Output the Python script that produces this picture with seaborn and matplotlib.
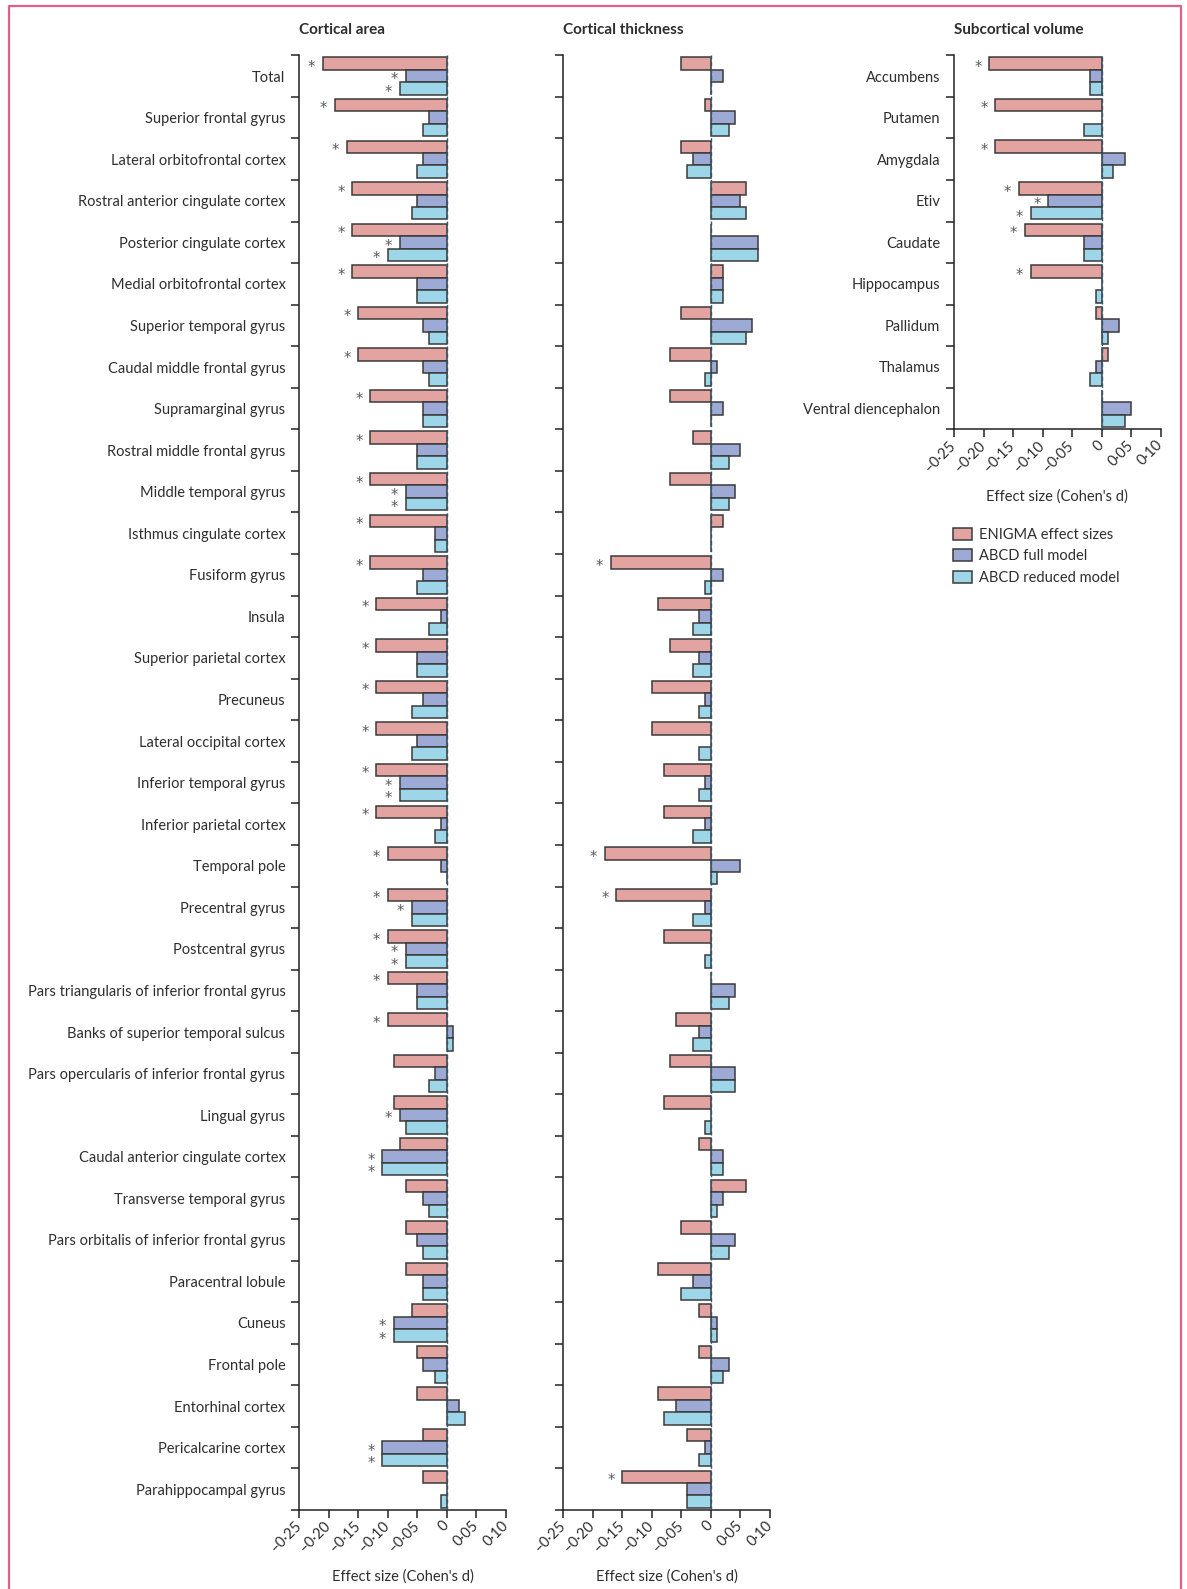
import numpy as np
import pandas as pd
import matplotlib
matplotlib.use("Agg")
import matplotlib.pyplot as plt
import seaborn as sns
from matplotlib.patches import Patch
from matplotlib.lines import Line2D

# ---------------- data ----------------
models = ["ENIGMA effect sizes", "ABCD full model", "ABCD reduced model"]
colors = ["#e3a4a1", "#9eaad6", "#9dd6e8"]

cortical_regions = [
    "Total", "Superior frontal gyrus", "Lateral orbitofrontal cortex",
    "Rostral anterior cingulate cortex", "Posterior cingulate cortex",
    "Medial orbitofrontal cortex", "Superior temporal gyrus",
    "Caudal middle frontal gyrus", "Supramarginal gyrus",
    "Rostral middle frontal gyrus", "Middle temporal gyrus",
    "Isthmus cingulate cortex", "Fusiform gyrus", "Insula",
    "Superior parietal cortex", "Precuneus", "Lateral occipital cortex",
    "Inferior temporal gyrus", "Inferior parietal cortex", "Temporal pole",
    "Precentral gyrus", "Postcentral gyrus",
    "Pars triangularis of inferior frontal gyrus",
    "Banks of superior temporal sulcus",
    "Pars opercularis of inferior frontal gyrus", "Lingual gyrus",
    "Caudal anterior cingulate cortex", "Transverse temporal gyrus",
    "Pars orbitalis of inferior frontal gyrus", "Paracentral lobule",
    "Cuneus", "Frontal pole", "Entorhinal cortex", "Pericalcarine cortex",
    "Parahippocampal gyrus",
]

area_enigma = [-0.21, -0.19, -0.17, -0.16, -0.16, -0.16, -0.15, -0.15, -0.13,
               -0.13, -0.13, -0.13, -0.13, -0.12, -0.12, -0.12, -0.12, -0.12,
               -0.12, -0.10, -0.10, -0.10, -0.10, -0.10, -0.09, -0.09, -0.08,
               -0.07, -0.07, -0.07, -0.06, -0.05, -0.05, -0.04, -0.04]
area_full = [-0.07, -0.03, -0.04, -0.05, -0.08, -0.05, -0.04, -0.04, -0.04,
             -0.05, -0.07, -0.02, -0.04, -0.01, -0.05, -0.04, -0.05, -0.08,
             -0.01, -0.01, -0.06, -0.07, -0.05, 0.01, -0.02, -0.08, -0.11,
             -0.04, -0.05, -0.04, -0.09, -0.04, 0.02, -0.11, 0.0]
area_reduced = [-0.08, -0.04, -0.05, -0.06, -0.10, -0.05, -0.03, -0.03, -0.04,
                -0.05, -0.07, -0.02, -0.05, -0.03, -0.05, -0.06, -0.06, -0.08,
                -0.02, 0.0, -0.06, -0.07, -0.05, 0.01, -0.03, -0.07, -0.11,
                -0.03, -0.04, -0.04, -0.09, -0.02, 0.03, -0.11, -0.01]

thick_enigma = [-0.05, -0.01, -0.05, 0.06, 0.0, 0.02, -0.05, -0.07, -0.07,
                -0.03, -0.07, 0.02, -0.17, -0.09, -0.07, -0.10, -0.10, -0.08,
                -0.08, -0.18, -0.16, -0.08, 0.0, -0.06, -0.07, -0.08, -0.02,
                0.06, -0.05, -0.09, -0.02, -0.02, -0.09, -0.04, -0.15]
thick_full = [0.02, 0.04, -0.03, 0.05, 0.08, 0.02, 0.07, 0.01, 0.02, 0.05,
              0.04, 0.0, 0.02, -0.02, -0.02, -0.01, 0.0, -0.01, -0.01, 0.05,
              -0.01, 0.0, 0.04, -0.02, 0.04, 0.0, 0.02, 0.02, 0.04, -0.03,
              0.01, 0.03, -0.06, -0.01, -0.04]
thick_reduced = [0.0, 0.03, -0.04, 0.06, 0.08, 0.02, 0.06, -0.01, 0.0, 0.03,
                 0.03, 0.0, -0.01, -0.03, -0.03, -0.02, -0.02, -0.02, -0.03,
                 0.01, -0.03, -0.01, 0.03, -0.03, 0.04, -0.01, 0.02, 0.01,
                 0.03, -0.05, 0.01, 0.02, -0.08, -0.02, -0.04]

sub_regions = ["Accumbens", "Putamen", "Amygdala", "Etiv", "Caudate",
               "Hippocampus", "Pallidum", "Thalamus", "Ventral diencephalon"]
sub_enigma = [-0.19, -0.18, -0.18, -0.14, -0.13, -0.12, -0.01, 0.01, 0.0]
sub_full = [-0.02, 0.0, 0.04, -0.09, -0.03, 0.0, 0.03, -0.01, 0.05]
sub_reduced = [-0.02, -0.03, 0.02, -0.12, -0.03, -0.01, 0.01, -0.02, 0.04]

# significance markers (*)
area_sig_enigma = cortical_regions[:24]
area_sig_full = ["Total", "Posterior cingulate cortex", "Middle temporal gyrus",
                 "Inferior temporal gyrus", "Precentral gyrus",
                 "Postcentral gyrus", "Lingual gyrus",
                 "Caudal anterior cingulate cortex", "Cuneus",
                 "Pericalcarine cortex"]
area_sig_reduced = ["Total", "Posterior cingulate cortex",
                    "Middle temporal gyrus", "Inferior temporal gyrus",
                    "Postcentral gyrus", "Caudal anterior cingulate cortex",
                    "Cuneus", "Pericalcarine cortex"]
thick_sig_enigma = ["Fusiform gyrus", "Temporal pole", "Precentral gyrus",
                    "Parahippocampal gyrus"]
thick_sig_full = []
thick_sig_reduced = []
sub_sig_enigma = ["Accumbens", "Putamen", "Amygdala", "Etiv", "Caudate",
                  "Hippocampus"]
sub_sig_full = ["Etiv"]
sub_sig_reduced = ["Etiv"]

panel_titles = ["Cortical area", "Cortical thickness", "Subcortical volume"]
xticks = [-0.25, -0.20, -0.15, -0.10, -0.05, 0.0, 0.05, 0.10]
xticklabels = ["\u20130\u00b725", "\u20130\u00b720", "\u20130\u00b715",
               "\u20130\u00b710", "\u20130\u00b705", "0", "0\u00b705",
               "0\u00b710"]
xlabel = "Effect size (Cohen's d)"

# ---------------- style ----------------
sns.set_style("ticks")
plt.rcParams["font.family"] = ["Lato", "DejaVu Sans"]
TXT = "#2e2e2e"
EDGE = "#3a3a3a"
plt.rcParams["text.color"] = TXT
plt.rcParams["axes.labelcolor"] = TXT

W, H = 1187, 1589
fig = plt.figure(figsize=(W / 100, H / 100), dpi=100)


def fx(px):
    return px / W


def fy(px):
    return 1 - px / H


def make_axes(left_px, top_px, bottom_px, width_px=206.7):
    return fig.add_axes([fx(left_px), fy(bottom_px),
                         width_px / W, (bottom_px - top_px) / H])


def draw(ax, regions, vals, sigs, show_labels):
    n = len(regions)
    df = pd.DataFrame({
        "region": regions * 3,
        "model": [m for m in models for _ in regions],
        "d": vals[0] + vals[1] + vals[2],
    })
    sns.barplot(data=df, x="d", y="region", hue="model", hue_order=models,
                order=regions, palette=colors, saturation=1, width=0.9,
                edgecolor=EDGE, linewidth=1.1, errorbar=None, orient="h",
                legend=False, ax=ax, zorder=3)
    ax.set_xlim(-0.25, 0.10)
    ax.set_ylim(n - 0.5, -0.5)
    ax.axvline(0, color="#2f5873", lw=1.0, ls=(0, (3, 2)), zorder=6)
    # stars
    for j, cont in enumerate(ax.containers):
        for bar in cont:
            bb = bar.get_bbox()
            yc = (bb.y0 + bb.y1) / 2
            k = int(round(yc))
            if regions[k] in sigs[j]:
                ax.text(min(bb.x0, bb.x1) - 0.019, yc + 0.2, "*",
                        ha="center", va="baseline", fontsize=10.5,
                        family="DejaVu Sans", color="#5a5a5a", zorder=7)
    # axes styling
    sns.despine(ax=ax)
    for s in ("left", "bottom"):
        ax.spines[s].set_color("#222222")
        ax.spines[s].set_linewidth(1.1)
    ax.set_yticks(range(n))
    if show_labels:
        ax.set_yticklabels(regions, fontsize=10.5, color=TXT)
    else:
        ax.set_yticklabels([])
    ax.set_yticks(np.arange(-0.5, n, 1.0), minor=True)
    ax.tick_params(axis="y", which="major", length=0, pad=10)
    ax.tick_params(axis="y", which="minor", length=5.8, width=1.1,
                   color="#222222")
    ax.set_ylabel("")
    ax.set_xticks(xticks)
    ax.set_xticklabels(xticklabels, rotation=45, ha="right", va="center",
                       rotation_mode="anchor", fontsize=10.5, color=TXT)
    ax.tick_params(axis="x", which="major", length=5.8, width=1.1,
                   color="#222222", pad=4)
    ax.set_xlabel(xlabel, fontsize=10.5)
    h_px = ax.get_position().height * H
    ax.xaxis.set_label_coords(0.5, -67 / h_px)
    ax.xaxis.label.set_va("center")
    ax.grid(False)


ax1 = make_axes(299.3, 55.3, 1510)
ax2 = make_axes(563.3, 55.3, 1510)
ax3 = make_axes(954.0, 55.3, 429.3)

draw(ax1, cortical_regions, [area_enigma, area_full, area_reduced],
     [area_sig_enigma, area_sig_full, area_sig_reduced], True)
draw(ax2, cortical_regions, [thick_enigma, thick_full, thick_reduced],
     [thick_sig_enigma, thick_sig_full, thick_sig_reduced], False)
draw(ax3, sub_regions, [sub_enigma, sub_full, sub_reduced],
     [sub_sig_enigma, sub_sig_full, sub_sig_reduced], True)

for ax, title in zip((ax1, ax2, ax3), panel_titles):
    x0 = ax.get_position().x0
    fig.text(x0, fy(30), title, ha="left", va="center", fontsize=11,
             fontweight="bold", color=TXT)

handles = [Patch(facecolor=c, edgecolor=EDGE, linewidth=1.1, label=m)
           for c, m in zip(colors, models)]
fig.legend(handles=handles, loc="upper left",
           bbox_to_anchor=(fx(953), fy(528)), frameon=False, borderpad=0,
           borderaxespad=0, handlelength=1.3, handleheight=0.9,
           handletextpad=0.5, labelspacing=0.5, fontsize=10.5)

# pink frame (open at bottom)
fig.add_artist(Line2D([fx(8.7), fx(8.7), fx(1181), fx(1181)],
                      [0, fy(6.3), fy(6.3), 0], transform=fig.transFigure,
                      color="#de6189", lw=1.6))

fig.savefig("out.png", dpi=100)
